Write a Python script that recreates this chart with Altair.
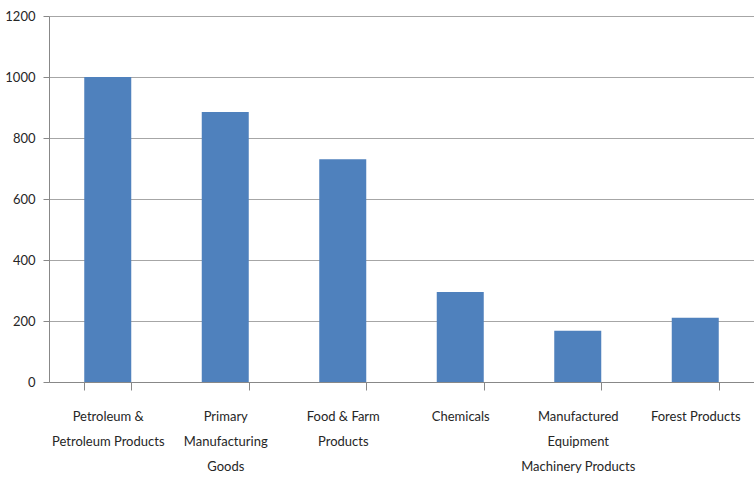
import altair as alt
import pandas as pd

# Freight commodity groups and their tonnage values
categories = [
    "Petroleum &|Petroleum Products",
    "Primary|Manufacturing|Goods",
    "Food & Farm|Products",
    "Chemicals",
    "Manufactured|Equipment|Machinery Products",
    "Forest Products",
]
values = [1000, 885, 730, 295, 168, 211]
y_ticks = [0, 200, 400, 600, 800, 1000, 1200]

df = pd.DataFrame({"category": categories, "value": values})

FONT = "Lato"
TEXT = "#262626"

chart = (
    alt.Chart(df)
    .mark_bar(color="#4F81BD")
    .encode(
        x=alt.X(
            "category:N",
            sort=categories,
            title=None,
            scale=alt.Scale(paddingInner=0.6, paddingOuter=0.3),
            axis=alt.Axis(
                labelAngle=0,
                labelExpr="split(datum.label, '|')",
                labelLineHeight=25,
                labelFontSize=13,
                labelFont=FONT,
                labelColor=TEXT,
                labelPadding=20,
                labelLimit=200,
                tickBand="extent",
                tickSize=8,
                tickColor="#888888",
                domainColor="#888888",
                labelBaseline="top",
            ),
        ),
        y=alt.Y(
            "value:Q",
            title=None,
            scale=alt.Scale(domain=[0, 1200], nice=False),
            axis=alt.Axis(
                values=y_ticks,
                format="d",
                labelFontSize=13,
                labelFont=FONT,
                labelColor=TEXT,
                labelPadding=8,
                tickSize=6,
                tickColor="#888888",
                domainColor="#888888",
                gridColor="#A6A6A6",
                gridWidth=1,
            ),
        ),
    )
    .properties(
        width=705,
        height=366,
        autosize=alt.AutoSizeParams(type="none"),
        padding={"left": 49, "top": 16, "right": 0, "bottom": 96},
    )
    .configure_view(stroke=None)
    .configure_axisX(grid=False)
)

chart.save("out.html", embed_options={"renderer": "svg", "actions": False})
